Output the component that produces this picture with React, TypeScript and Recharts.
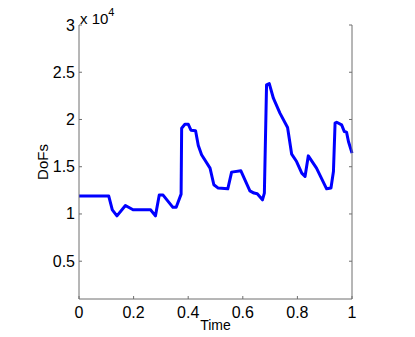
import React from 'react';
import { LineChart, Line, XAxis, YAxis, Label } from 'recharts';

const times = [0, 0.109, 0.122, 0.139, 0.17, 0.198, 0.262, 0.28, 0.294, 0.308, 0.344, 0.356, 0.374, 0.376, 0.388, 0.4, 0.41, 0.427, 0.437, 0.449, 0.48, 0.494, 0.51, 0.545, 0.559, 0.593, 0.626, 0.641, 0.653, 0.672, 0.679, 0.687, 0.697, 0.712, 0.736, 0.764, 0.779, 0.797, 0.816, 0.828, 0.84, 0.87, 0.907, 0.923, 0.932, 0.938, 0.944, 0.962, 0.972, 0.98, 0.987, 1.0];
const dofs = [11900, 11900, 10440, 9800, 10900, 10440, 10440, 9800, 12000, 12000, 10700, 10700, 12100, 19080, 19500, 19500, 18870, 18800, 17240, 16260, 14850, 13090, 12740, 12660, 14430, 14570, 12450, 12210, 12140, 11500, 12210, 23660, 23800, 22250, 20670, 19150, 16330, 15550, 14320, 13970, 16150, 14850, 12660, 12740, 14490, 19610, 19710, 19430, 18720, 18660, 17670, 16440];
const xTicks = [0, 0.2, 0.4, 0.6, 0.8, 1];
const yTicks = [5000, 10000, 15000, 20000, 25000, 30000];

const data = times.map((t, i) => ({ t, v: dofs[i] }));

const W = 415;
const H = 337;
const LEFT = 79;
const RIGHT = 352;
const TOP = 25;
const BOTTOM = 299;
const TL = 3;
const AX = '#6e6e6e';
const FONT = '"Liberation Sans", Arial, Helvetica, sans-serif';

const fmtX = (v: number) => String(v);
const fmtY = (v: number) => String(v / 10000);

const BottomTick = (p: any) => (
  <g>
    <line x1={p.x} x2={p.x} y1={BOTTOM} y2={BOTTOM - TL} stroke={AX} />
    <text x={p.x} y={312} textAnchor="middle" dominantBaseline="central" fontSize={16} fontFamily={FONT} fill="#000">
      {fmtX(p.payload.value)}
    </text>
  </g>
);
const TopTick = (p: any) => (
  <line x1={p.x} x2={p.x} y1={TOP} y2={TOP + TL} stroke={AX} />
);
const LeftTick = (p: any) => (
  <g>
    <line x1={LEFT} x2={LEFT + TL} y1={p.y} y2={p.y} stroke={AX} />
    <text x={75} y={p.y} textAnchor="end" dominantBaseline="central" fontSize={16} fontFamily={FONT} fill="#000">
      {fmtY(p.payload.value)}
    </text>
  </g>
);
const RightTick = (p: any) => (
  <line x1={RIGHT} x2={RIGHT - TL} y1={p.y} y2={p.y} stroke={AX} />
);

export default function App() {
  return (
    <div style={{ position: 'absolute', left: 0, top: 0, width: W, height: H, background: '#fff' }}>
      <LineChart width={W} height={H} data={data} margin={{ top: TOP, right: 0, bottom: 0, left: 0 }}>
        <XAxis xAxisId="b" dataKey="t" type="number" domain={[0, 1]} ticks={xTicks} orientation="bottom"
          height={H - BOTTOM} axisLine={{ stroke: AX }} tickLine={false} tick={BottomTick} interval={0}>
          <Label content={() => (
            <text x={(LEFT + RIGHT) / 2} y={325} textAnchor="middle" dominantBaseline="central" fontSize={14} fontFamily={FONT} fill="#000">Time</text>
          )} />
        </XAxis>
        <XAxis xAxisId="t" dataKey="t" type="number" domain={[0, 1]} ticks={xTicks} orientation="top"
          height={0} axisLine={{ stroke: AX }} tickLine={false} tick={TopTick} interval={0} />
        <YAxis yAxisId="l" type="number" domain={[1000, 30000]} ticks={yTicks} orientation="left"
          width={LEFT} axisLine={{ stroke: AX }} tickLine={false} tick={LeftTick} interval={0} allowDataOverflow>
          <Label content={() => (
            <text x={42} y={162} textAnchor="middle" dominantBaseline="central" fontSize={15} fontFamily={FONT} fill="#000" transform="rotate(-90 42 162)">DoFs</text>
          )} />
        </YAxis>
        <YAxis yAxisId="r" type="number" domain={[1000, 30000]} ticks={yTicks} orientation="right"
          width={W - RIGHT} axisLine={{ stroke: AX }} tickLine={false} tick={RightTick} interval={0} allowDataOverflow />
        <Line xAxisId="b" yAxisId="l" type="linear" dataKey="v" stroke="#0000ff" strokeWidth={3}
          dot={false} isAnimationActive={false} strokeLinejoin="round" />
      </LineChart>
      <div style={{ position: 'absolute', left: 80, top: 7, fontFamily: FONT, fontSize: 15, lineHeight: '15px', color: '#000', whiteSpace: 'nowrap' }}>
        x 10<sup style={{ fontSize: 11, position: 'relative', top: -2 }}>4</sup>
      </div>
    </div>
  );
}
